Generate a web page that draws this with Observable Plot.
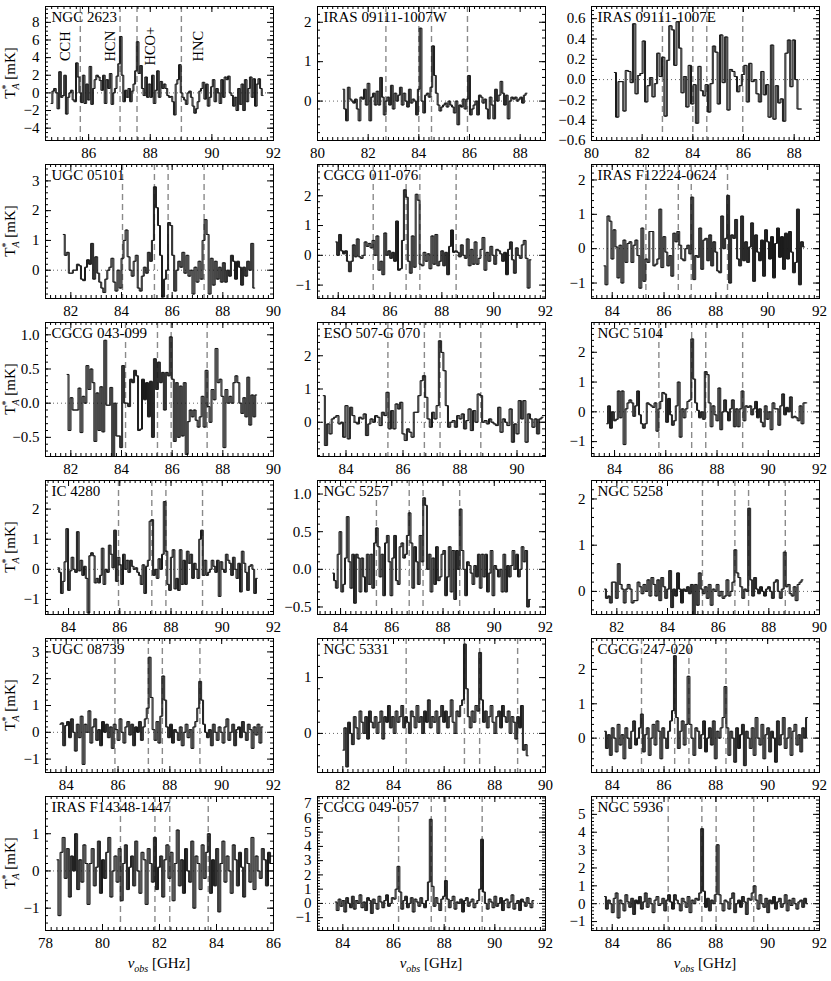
<!DOCTYPE html>
<html><head><meta charset="utf-8">
<script src="https://cdn.jsdelivr.net/npm/d3@7"></script>
<script src="https://cdn.jsdelivr.net/npm/@observablehq/plot@0.6"></script>
<style>
body{margin:0;background:#fff;}
#fig{position:relative;width:831px;height:981px;background:#fff;}
#fig svg{position:absolute;overflow:visible;}
</style></head><body><div id="fig"></div>
<script>
const names = ["NGC 2623","IRAS 09111-1007W","IRAS 09111-1007E","UGC 05101","CGCG 011-076","IRAS F12224-0624","CGCG 043-099","ESO 507-G 070","NGC 5104","IC 4280","NGC 5257","NGC 5258","UGC 08739","NGC 5331","CGCG 247-020","IRAS F14348-1447","CGCG 049-057","NGC 5936"];
const molecules = ["CCH","HCN","HCO+","HNC"];
const xStart    = [84.78,81.0,80.9,81.7,83.9,83.68,81.85,83.2,83.69,83.58,83.69,81.51,83.75,82.0,83.7,78.4,83.7,83.7];
const chanWidth = [0.0548,0.0709,0.0955,0.08,0.0758,0.077,0.0784,0.08,0.0755,0.0692,0.0711,0.078,0.075,0.075,0.075,0.0728,0.075,0.075];
const xDomains = [[84.6,92],[80,89],[80,89],[81,90],[83.2,92],[83.2,92],[81,90],[83,91],[83.1,92],[83.1,92],[83.1,92],[81,90],[83.2,92],[81,90],[83.2,92],[78,86],[83,92],[83.2,92]];
const yDomains = [[-5.4,9.8],[-1.0,2.4],[-0.6,0.72],[-0.95,3.55],[-1.45,3.05],[-1.45,2.45],[-0.78,1.18],[-1.03,3.0],[-1.5,3.0],[-1.5,2.95],[-0.6,1.18],[-0.5,2.4],[-1.5,3.5],[-0.7,1.7],[-1.0,2.9],[-1.6,2.0],[-1.9,7.5],[-1.5,6.0]];
const yTicks = [[-4,-2,0,2,4,6,8],[0,1,2],[-0.6,-0.4,-0.2,0.0,0.2,0.4,0.6],[0,1,2,3],[-1,0,1,2],[-1,0,1,2],[-0.5,0.0,0.5,1.0],[0,1,2],[-1,0,1,2],[-1,0,1,2],[-0.5,0.0,0.5,1.0],[0,1,2],[-1,0,1,2,3],[0,1],[0,1,2],[-1,0,1],[-1,0,1,2,3,4,5,6,7],[-1,0,1,2,3,4,5]];
const lineFreqs = [[85.73,87.02,87.57,89.01],[82.7,84.0,84.5,85.92],[82.8,84.0,84.55,85.97],[84.04,85.3,85.84,87.26],[85.35,86.62,87.15,88.55],[85.3,86.55,87.05,88.45],[84.16,85.42,85.96,87.38],[85.47,86.75,87.3,88.73],[85.73,87.01,87.56,89.0],[85.95,87.25,87.8,89.23],[85.4,86.68,87.22,88.65],[85.38,86.66,87.2,88.65],[85.88,87.17,87.71,89.16],[84.5,86.8,87.4,88.9],[85.13,86.41,86.96,88.39],[80.63,81.84,82.36,83.71],[86.2,87.49,88.05,89.5],[86.16,87.46,88.01,89.46]];

const s_NGC2623 = [-1.2,0.2,0.5,0.0,-1.8,2.4,-0.5,-0.3,2.0,-2.4,-0.5,0.0,0.3,-0.8,-1.0,3.4,1.8,0.0,-1.1,2.0,-1.2,1.0,-0.8,3.0,-1.3,0.5,1.5,2.0,1.8,1.4,0.3,2.0,-1.2,1.5,0.5,2.2,-1.3,0.0,0.5,1.9,3.3,6.4,2.0,-1.0,0.3,-0.5,0.5,-1.0,0.2,1.0,2.5,5.8,2.2,3.1,0.5,-0.3,1.8,-0.5,1.0,-0.5,2.0,-1.2,0.3,2.5,-0.5,1.3,0.5,1.0,0.5,-0.3,-0.5,-0.4,-1.0,-2.5,1.0,1.5,3.2,0.0,-0.5,-0.8,-1.3,0.0,0.2,-0.5,-1.5,-2.3,-1.8,-1.0,0.2,0.5,1.2,-0.7,1.0,-1.5,-0.5,0.7,1.5,-1.0,0.5,0.0,-1.2,1.5,-0.5,1.8,1.5,1.9,0.0,-0.3,-1.5,-0.5,-2.0,0.5,-1.3,1.0,-2.0,1.5,-1.0,0.5,1.8,-0.5,1.6,-1.5,1.0,1.6,0.5,-0.3];
const s_IRAS09111W = [0.3,-0.2,-0.5,0.35,0.05,0.0,-0.05,0.05,-0.2,-0.5,0.1,0.05,0.3,-0.1,0.45,-0.5,0.1,0.2,-0.1,0.25,-0.1,0.6,0.1,-0.35,0.0,0.1,-0.1,0.4,-0.2,0.2,0.0,0.15,0.35,-0.1,0.2,0.0,-0.15,0.3,-0.05,0.05,0.0,-0.35,0.3,1.85,0.0,-0.3,0.15,0.2,0.1,0.35,1.4,0.65,0.2,-0.1,-0.25,-0.15,-0.1,-0.05,-0.15,0.0,-0.1,-0.15,-0.3,0.0,-0.6,-0.1,-0.15,0.05,-0.2,0.05,0.65,-0.35,-0.2,-0.1,0.0,-0.35,0.15,0.1,-0.05,0.05,-0.2,-0.45,0.1,-0.1,-0.45,0.3,0.0,0.15,0.5,0.2,-0.1,0.15,-0.45,0.0,0.1,0.05,0.1,0.0,0.05,0.1,-0.05,0.15,0.2];
const s_IRAS09111E = [0.07,-0.37,-0.02,-0.02,-0.31,0.09,0.08,-0.03,0.55,-0.14,0.04,0.06,0.38,-0.22,-0.06,0.02,-0.17,-0.04,0.26,0.03,0.22,-0.36,0.19,0.53,0.49,0.14,0.57,0.31,-0.13,0.03,-0.27,0.14,-0.24,-0.05,-0.43,0.13,-0.11,-0.16,-0.05,-0.32,-0.04,0.33,0.27,-0.24,0.44,-0.03,0.42,-0.3,0.1,0.08,0.03,-0.12,-0.06,0.05,0.14,-0.22,0.16,-0.02,0.0,-0.14,-0.22,0.08,-0.15,-0.05,-0.37,0.34,-0.39,-0.06,-0.23,-0.19,-0.41,0.26,0.39,-0.07,0.39,0.0,-0.29,-0.29];
const s_UGC05101 = [1.2,0.5,0.6,-0.1,-0.1,0.0,0.0,0.2,0.15,-0.3,-0.35,0.1,0.35,0.2,0.9,-0.3,0.45,-0.1,-0.4,-0.6,-0.75,-0.3,0.0,0.1,0.4,-0.4,-0.7,0.0,-0.6,0.4,1.0,1.35,0.45,0.0,-0.2,0.3,0.5,-0.6,-0.7,-0.2,0.1,-0.1,0.6,0.3,1.0,2.8,2.1,1.5,0.5,-0.9,-0.3,0.0,1.6,1.5,0.5,-0.7,0.0,0.3,0.1,0.6,-0.1,0.5,-0.2,0.0,-0.8,0.1,-0.4,0.3,-0.3,1.0,1.7,1.2,-0.8,0.4,-0.5,0.3,-0.3,0.1,-0.4,0.25,-0.4,0.0,-0.2,0.5,0.3,-0.3,0.3,0.1,-0.5,0.1,-0.2,0.3,0.0,0.9,-0.6];
const s_CGCG011076 = [0.45,0.0,0.7,0.15,0.05,0.15,-0.2,-0.55,-0.2,0.35,-0.05,0.55,-0.05,-0.1,0.0,0.45,0.3,0.4,0.25,0.5,0.0,0.65,-0.5,-0.2,-0.65,0.75,0.0,0.15,-0.1,0.1,-0.2,1.15,-0.5,-0.45,0.5,2.2,1.95,-0.2,-0.6,0.65,-0.4,2.05,1.85,-0.3,-0.35,0.1,-0.2,0.05,-0.45,0.65,-0.3,0.7,-0.35,-0.2,0.15,-0.35,0.1,-0.65,0.3,0.85,0.1,0.15,0.1,-0.05,0.35,0.0,-0.1,0.55,-0.35,0.2,-0.3,0.45,-0.3,-0.1,0.2,0.6,-0.5,0.1,-0.2,0.3,0.0,-0.3,0.2,0.15,0.05,-0.2,0.1,-0.65,0.2,0.45,-0.15,-0.6,0.25,0.0,-0.1,0.35,0.5,-0.1,-1.1,-0.15];
const s_IRASF12224 = [-0.5,-1.05,0.95,0.8,-0.3,0.55,0.05,-0.85,0.1,-1.0,0.25,-0.4,0.15,0.2,-0.4,0.1,0.25,-0.2,-1.15,0.6,-0.95,-0.3,-0.4,0.5,0.5,-0.5,-0.45,-0.3,1.15,-0.55,0.35,-0.1,-0.5,-0.2,-0.8,0.45,0.2,0.5,0.1,-0.3,-0.35,0.0,0.1,-0.15,1.5,-0.9,-0.2,-0.25,0.6,-0.6,0.25,0.3,-0.35,0.4,-0.5,0.2,-0.1,-0.65,-0.7,0.95,0.0,0.3,1.55,-1.0,0.4,0.3,0.85,-0.3,-0.5,0.95,-0.35,0.2,-0.4,0.05,0.75,-0.95,0.4,-0.1,-0.35,0.25,-0.8,0.55,0.2,-0.3,0.35,-0.85,0.15,0.6,-0.25,0.35,-0.6,0.45,-0.3,0.5,-0.1,-0.7,-0.4,1.15,-1.05,0.2,0.05];
const s_CGCG043099 = [0.42,-0.4,0.08,-0.1,-0.1,-0.1,0.22,-0.43,0.1,0.0,0.55,0.2,0.5,0.3,-0.56,0.15,-0.4,0.24,-0.42,0.92,-0.03,-0.03,0.23,-0.78,0.0,-0.48,-0.48,-0.65,0.55,0.0,0.0,-0.05,0.35,0.3,0.48,0.4,-0.4,-0.38,0.35,0.05,0.3,-0.2,0.32,-0.5,0.65,0.2,0.6,0.3,0.45,-0.1,0.45,0.4,0.97,0.35,-0.56,0.3,-0.5,0.25,-0.48,0.3,-0.75,-0.27,-0.1,-0.2,-0.1,-0.25,-0.35,-0.2,0.1,-0.35,0.48,-0.05,-0.28,0.2,0.05,0.8,0.3,0.35,0.1,-0.65,0.2,0.0,0.1,0.0,0.3,0.4,0.3,0.0,-0.15,0.08,-0.2,0.38,-0.32,0.12,-0.2,0.12];
const s_ESO507 = [0.8,-0.7,-0.05,-0.35,0.1,0.15,0.2,-0.05,0.0,-0.45,0.5,-0.5,0.45,0.2,0.0,-0.05,0.15,0.1,0.25,-0.4,-0.05,0.1,0.0,0.2,0.15,-0.1,0.3,0.2,0.9,-0.2,0.35,-0.2,0.55,0.4,0.6,-0.35,-0.55,-0.2,-0.3,-0.45,0.3,0.3,0.8,1.25,1.4,0.75,0.1,-0.15,0.3,0.1,0.5,2.45,2.1,1.55,0.5,-0.15,0.0,0.05,-0.15,0.2,0.1,0.25,-0.2,0.05,0.4,-0.25,0.35,0.0,0.85,0.8,0.0,0.05,-0.05,0.1,0.0,-0.05,-0.1,0.45,-0.3,0.1,0.0,-0.1,0.4,-0.6,-0.05,-0.35,0.65,0.1,0.65,-0.6,0.25,0.1,-0.15,0.1,-0.35,0.1,0.15];
const s_NGC5104 = [-0.4,0.2,-0.55,0.0,-0.3,-0.25,0.7,-0.2,0.7,-1.1,0.1,0.3,0.4,0.3,-0.15,0.2,0.7,-0.1,-0.4,-0.55,-0.4,0.3,0.25,0.2,0.15,0.3,-0.65,0.1,0.35,0.65,0.6,-0.35,0.45,-0.1,-0.45,-0.3,0.2,1.0,-0.85,0.1,-0.2,0.1,0.35,0.4,2.45,1.1,0.3,0.05,-0.2,0.0,-0.25,1.35,1.25,0.3,-0.5,0.2,-0.1,-0.3,0.8,-0.6,0.0,0.4,0.0,-0.3,0.1,0.4,-0.5,0.1,-0.5,0.1,0.7,-0.3,0.2,0.15,0.2,-0.1,0.1,0.35,-0.2,0.1,-0.35,-0.5,0.2,-0.25,0.0,-0.6,0.3,0.1,0.1,-0.45,0.2,0.6,-0.1,0.15,0.0,0.5,-0.2,-0.15,-0.2,-0.3,0.2,-0.4,0.3,0.3];
const s_IC4280 = [0.05,-0.1,-0.8,-0.4,0.25,1.35,-0.7,-0.05,0.4,0.0,-0.1,1.25,-0.05,0.3,-0.2,0.1,-0.3,-1.45,0.45,0.55,0.45,-0.45,-0.3,-0.45,-0.2,0.7,-0.5,0.0,-0.1,0.8,0.5,0.05,1.3,-0.4,0.4,0.15,-0.5,0.5,0.0,0.3,-0.1,0.3,0.1,0.0,0.05,-0.1,-0.2,-0.5,0.15,-0.8,0.1,0.3,1.6,1.65,-0.2,0.0,-0.3,0.35,0.0,0.5,2.25,0.6,-0.5,-0.7,0.4,0.65,-0.65,-0.3,-0.7,0.65,-0.5,0.3,-0.5,0.6,0.2,0.5,-0.3,0.2,0.0,-0.3,1.0,1.3,-0.2,0.3,-0.2,-0.1,0.0,0.3,0.1,-0.1,0.3,-0.9,0.25,0.0,-0.1,0.5,0.3,0.2,-0.2,0.4,0.0,-0.3,0.2,-0.75,0.6,0.2,-0.1,-0.7,0.1,0.15,0.0,-0.8,-0.3];
const s_NGC5257 = [-0.05,-0.15,-0.25,0.2,0.5,-0.3,-0.2,0.15,0.7,0.1,-0.25,0.2,-0.45,0.2,0.15,-0.3,0.15,-0.1,-0.3,0.2,-0.2,0.2,-0.25,0.35,0.55,0.3,-0.1,0.2,-0.35,0.35,0.45,0.1,-0.35,0.15,0.45,-0.15,-0.2,0.3,0.35,0.15,0.2,0.45,0.75,0.35,-0.25,0.3,0.1,-0.2,0.45,0.1,0.95,0.85,0.0,0.2,-0.3,0.15,-0.2,0.3,-0.15,-0.1,0.2,0.25,-0.35,-0.1,0.3,-0.3,0.25,-0.4,0.25,0.0,0.8,0.25,0.0,-0.35,0.1,0.05,-0.05,-0.2,0.05,-0.1,0.2,-0.25,0.2,-0.1,0.2,-0.3,-0.05,0.25,-0.35,0.05,0.0,-0.1,0.0,-0.3,0.2,-0.3,0.05,-0.1,0.05,0.25,0.0,0.2,-0.1,0.0,0.3,0.1,0.25,-0.5,-0.4];
const s_NGC5258 = [0.05,-0.15,-0.1,-0.25,0.2,0.2,-0.15,0.6,0.15,0.05,-0.25,0.05,0.15,0.05,-0.25,-0.2,-0.2,0.2,0.1,-0.05,0.15,0.0,0.25,-0.1,0.3,0.15,-0.1,0.25,-0.2,0.3,0.1,-0.15,0.05,0.45,-0.35,0.05,-0.1,0.4,0.05,-0.25,0.05,0.0,0.1,-0.05,0.15,-0.5,0.15,-0.3,0.4,0.05,-0.05,0.1,-0.15,0.15,-0.3,0.05,0.0,0.15,-0.1,0.0,-0.15,-0.1,0.25,-0.1,0.0,0.2,0.9,0.4,0.3,0.1,-0.15,0.05,0.0,1.8,0.25,-0.1,0.3,0.05,-0.05,0.1,0.0,-0.1,0.05,0.1,0.0,-0.15,0.2,0.25,0.0,-0.15,0.05,0.85,0.1,0.15,-0.05,-0.1,0.1,-0.2,0.15,0.2,0.25];
const s_UGC08739 = [0.3,0.35,-0.5,0.25,0.4,-0.2,0.5,0.0,-0.7,0.3,-0.2,0.6,-1.2,0.3,0.0,0.8,-0.4,0.2,0.5,-0.3,0.1,-0.5,0.4,0.0,0.3,-0.2,0.2,-0.6,0.3,0.1,-0.3,0.5,0.0,-0.4,0.2,0.4,-0.1,0.3,-0.5,0.2,0.0,0.4,-0.3,0.2,0.5,0.9,2.8,1.3,0.1,-0.3,0.4,-0.4,0.6,2.1,1.2,0.2,-0.2,0.3,-0.4,0.1,0.0,-0.3,0.2,-0.5,0.0,0.3,-0.2,0.1,-0.6,0.2,0.4,0.9,1.9,1.2,0.3,0.0,-0.2,0.1,-0.5,0.3,0.0,-0.3,0.2,0.0,-0.4,0.2,0.5,-0.3,0.0,0.3,-0.5,0.1,0.2,-0.2,0.4,0.0,-0.3,0.3,0.1,-0.6,0.2,-0.1,0.3,-0.4,0.2];
const s_NGC5331 = [-0.3,0.1,-0.6,0.2,0.0,-0.2,0.3,0.1,-0.1,0.4,0.2,0.0,0.3,-0.1,0.4,0.2,0.1,0.3,0.0,0.2,0.4,-0.1,0.3,0.2,0.5,0.1,0.3,0.0,0.4,0.2,0.3,0.5,0.1,0.3,0.2,0.0,0.4,0.3,0.1,0.5,0.2,0.3,0.0,0.4,0.2,0.6,0.1,0.3,0.2,0.4,0.0,0.3,0.5,0.2,0.4,0.1,0.3,0.6,0.2,0.0,0.4,0.3,0.5,0.6,1.6,0.8,0.3,0.1,0.4,0.2,0.5,0.4,1.45,0.6,0.2,0.4,0.1,0.3,0.5,0.2,0.0,0.3,0.4,0.1,0.5,0.3,0.2,0.4,0.0,0.3,0.2,-0.1,0.3,0.1,0.5,-0.3,-0.2,-0.4];
const s_CGCG247020 = [0.2,-0.3,0.1,-0.5,0.3,0.0,-0.4,0.4,-0.2,0.1,-0.6,0.3,0.0,-0.3,0.2,0.5,-0.2,0.0,0.3,0.7,-0.4,0.1,0.3,-0.5,0.0,0.4,-0.2,0.5,0.2,-0.6,0.3,0.0,-0.3,0.2,0.5,0.8,2.4,0.6,-0.3,0.2,0.5,-0.2,0.4,1.8,0.4,0.0,-0.5,0.3,0.2,-0.3,0.1,0.5,-0.4,0.0,0.3,-0.2,0.5,-0.6,0.2,0.0,0.3,0.6,1.5,0.3,-0.5,0.2,0.0,-0.7,0.3,-0.3,0.1,0.4,-0.8,0.2,0.0,-0.3,0.3,-0.5,0.6,0.0,-0.2,0.4,-0.6,0.1,0.3,-0.4,0.2,0.0,-0.7,0.5,-0.2,0.1,0.6,-0.3,0.0,0.3,-0.5,0.2,0.4,-0.2,0.1,-0.4,0.3,0.0,0.6];
const s_IRASF14348 = [0.3,-1.2,0.5,0.9,-0.2,0.6,-0.7,0.4,0.0,1.0,-0.5,0.3,-0.3,0.7,0.2,-0.9,0.2,0.6,-0.4,0.1,0.8,-0.6,0.3,-0.2,0.5,0.9,-0.7,0.0,0.4,-0.3,0.6,-0.8,0.2,0.7,-0.5,0.1,0.4,-0.4,0.8,0.0,-0.6,0.5,0.3,-0.9,0.6,0.2,-0.3,0.9,-0.5,0.1,0.4,-0.7,0.3,0.7,-0.2,0.5,-0.8,0.2,1.1,-0.4,0.3,-0.6,0.6,0.0,-0.3,0.8,-1.0,0.4,0.2,-0.5,0.7,-0.2,0.5,1.0,-0.6,0.3,-0.4,0.6,-1.1,0.2,0.8,-0.3,0.4,0.0,-0.6,0.7,0.3,-0.4,0.5,0.1,-0.7,0.6,0.2,-0.3,0.9,-0.5,0.4,0.0,-0.2,0.6,0.3,-0.4,0.5,0.2];
const s_CGCG049057 = [0.1,-0.5,0.3,-0.2,0.2,-0.6,0.4,0.0,-0.3,0.5,-0.4,0.2,0.0,0.6,-0.3,0.1,-0.5,0.4,0.2,-0.7,0.3,0.0,-0.4,0.5,0.1,-0.3,0.2,0.6,-0.2,0.0,0.4,0.3,1.0,2.6,0.8,-0.4,0.2,0.5,-0.3,0.0,0.4,-0.6,0.3,0.1,-0.2,0.4,0.0,-0.3,0.2,1.5,5.9,1.2,-0.2,0.4,0.0,-0.5,0.3,0.5,1.6,0.3,-0.3,0.2,0.5,-0.4,0.1,0.0,0.3,-0.6,0.2,0.4,-0.2,0.1,0.3,-0.3,0.0,0.2,1.0,4.5,0.8,0.0,-0.4,0.3,0.1,-0.3,0.5,-0.2,0.0,0.4,-0.5,0.2,0.3,-0.3,0.1,0.6,-0.4,0.0,0.2,-0.5,0.3,0.1,-0.2,0.4,0.0,-0.3,0.2];
const s_NGC5936 = [0.4,-0.3,0.2,0.0,-0.5,0.3,0.6,-0.8,0.2,0.0,-0.4,0.5,0.1,-0.2,0.3,-0.6,0.2,0.0,0.4,-0.3,0.1,0.6,-0.2,0.3,0.0,-0.5,0.2,0.4,-0.1,0.0,0.3,-0.4,0.2,0.5,0.1,-0.3,0.5,0.2,0.0,-0.4,0.3,0.1,-0.2,0.4,-0.5,0.2,0.0,0.3,0.2,0.6,4.2,0.7,-0.2,0.3,-0.4,0.2,0.0,0.5,3.3,0.5,0.0,-0.4,0.2,0.1,-0.3,0.3,0.6,-0.5,0.0,0.2,-0.2,0.4,0.1,-0.6,0.3,0.2,0.6,1.0,0.2,-0.3,0.5,0.0,-0.2,0.3,-0.5,0.2,0.0,0.4,-0.3,0.1,0.3,-0.2,0.0,0.5,-0.4,0.2,-0.1,0.3,0.0,-0.3,0.1,0.2,-0.2,0.3,0.0];

const spectra = [s_NGC2623,s_IRAS09111W,s_IRAS09111E,s_UGC05101,s_CGCG011076,s_IRASF12224,s_CGCG043099,s_ESO507,s_NGC5104,s_IC4280,s_NGC5257,s_NGC5258,s_UGC08739,s_NGC5331,s_CGCG247020,s_IRASF14348,s_CGCG049057,s_NGC5936];

const FONT = '"Liberation Serif","DejaVu Serif",serif';
const colLeft = [45, 317, 591];
const rowTop = [6, 164, 322, 480, 638, 796];
const W = 228, H = 134, mL = 46, mR = 12, mT = 6, mB = 30;
const fig = document.getElementById("fig");

names.forEach((name, i) => {
  const col = i % 3, row = Math.floor(i / 3);
  const xd = xDomains[i], yd = yDomains[i];
  const data = spectra[i].map((v, k) => ({f: xStart[i] + k * chanWidth[i], t: v}));
  const xMaj = d3.range(Math.ceil(xd[0] / 2 - 1e-9) * 2, xd[1] + 1e-6, 2);
  const xMin = d3.range(Math.ceil(xd[0] / 0.2 - 1e-6), Math.floor(xd[1] / 0.2 + 1e-6) + 1).map(k => k * 0.2);
  const yMaj = yTicks[i];
  const ys = +(yMaj[1] - yMaj[0]).toFixed(3);
  const yMs = ys === 2 ? 0.5 : ys / 5;
  const yMin = d3.range(Math.ceil(yd[0] / yMs - 1e-6), Math.floor(yd[1] / yMs + 1e-6) + 1).map(k => k * yMs);
  const yFmt = ys < 1 ? d3.format(".1f") : d3.format("d");
  const tl = 6, tm = 3;
  const marks = [
    Plot.ruleY([0], {stroke: "#666", strokeWidth: 1, strokeDasharray: "1,3"}),
    Plot.ruleX(lineFreqs[i], {x: d => d, stroke: "#8a8a8a", strokeWidth: 1.4, strokeDasharray: "6,4"}),
    Plot.line(data, {x: "f", y: "t", curve: "step", stroke: "#1a1a1a", strokeWidth: 1, clip: true}),
    Plot.line(data, {x: "f", y: "t", curve: "step", stroke: "#1a1a1a", strokeWidth: 1, dx: 1, clip: true}),
    Plot.tickX(xMaj, {x: d => d, insetTop: H - tl, stroke: "#000"}),
    Plot.tickX(xMaj, {x: d => d, insetBottom: H - tl, stroke: "#000"}),
    Plot.tickX(xMin, {x: d => d, insetTop: H - tm, stroke: "#000"}),
    Plot.tickX(xMin, {x: d => d, insetBottom: H - tm, stroke: "#000"}),
    Plot.tickY(yMaj, {y: d => d, insetRight: W - tl, stroke: "#000"}),
    Plot.tickY(yMaj, {y: d => d, insetLeft: W - tl, stroke: "#000"}),
    Plot.tickY(yMin, {y: d => d, insetRight: W - tm, stroke: "#000"}),
    Plot.tickY(yMin, {y: d => d, insetLeft: W - tm, stroke: "#000"}),
    Plot.axisX(xMaj, {anchor: "bottom", tickSize: 0, tickPadding: 7, fontSize: 15, tickFormat: d3.format("d"), label: null}),
    Plot.axisY(yMaj, {anchor: "left", tickSize: 0, tickPadding: 6, fontSize: 15, tickFormat: yFmt, label: null}),
    Plot.frame({stroke: "#000", strokeWidth: 1}),
    Plot.text([name], {frameAnchor: "top-left", text: d => d, dx: 6, dy: 5, textAnchor: "start", lineAnchor: "top", fontSize: 15, fill: "#000"})
  ];
  if (i === 0) {
    const offs = [-15, -10, 13, 17];
    molecules.forEach((m, k) => {
      marks.push(Plot.text([m], {x: () => lineFreqs[0][k], y: () => 5.3, text: d => d, rotate: -90, dx: offs[k], fontSize: 14.5, fill: "#000"}));
    });
  }
  const svg = Plot.plot({
    width: mL + W + mR, height: mT + H + mB,
    marginLeft: mL, marginRight: mR, marginTop: mT, marginBottom: mB,
    x: {domain: xd, axis: null}, y: {domain: yd, axis: null},
    style: {fontFamily: FONT, fontSize: "15px", background: "transparent", color: "#000"},
    marks
  });
  svg.style.left = (colLeft[col] - mL) + "px";
  svg.style.top = (rowTop[row] - mT) + "px";
  fig.appendChild(svg);
});

const ov = d3.select(fig).append("svg").attr("width", 831).attr("height", 981)
  .style("left", "0px").style("top", "0px").style("pointer-events", "none")
  .style("font-family", FONT).style("font-size", "15px");
rowTop.forEach(t => {
  const tx = ov.append("text").attr("text-anchor", "middle")
    .attr("transform", `translate(15,${t + H / 2}) rotate(-90)`);
  tx.append("tspan").text("T");
  tx.append("tspan").attr("dy", -6).attr("font-size", 10).text("*");
  tx.append("tspan").attr("dx", -5).attr("dy", 10).attr("font-size", 10).attr("font-style", "italic").text("A");
  tx.append("tspan").attr("dy", -4).text(" [mK]");
});
colLeft.forEach(l => {
  const tx = ov.append("text").attr("text-anchor", "middle")
    .attr("x", l + W / 2).attr("y", rowTop[5] + H + 38);
  tx.append("tspan").attr("font-style", "italic").text("ν");
  tx.append("tspan").attr("font-style", "italic").attr("font-size", 10).attr("dy", 4).text("obs");
  tx.append("tspan").attr("dy", -4).text(" [GHz]");
});
</script></body></html>
